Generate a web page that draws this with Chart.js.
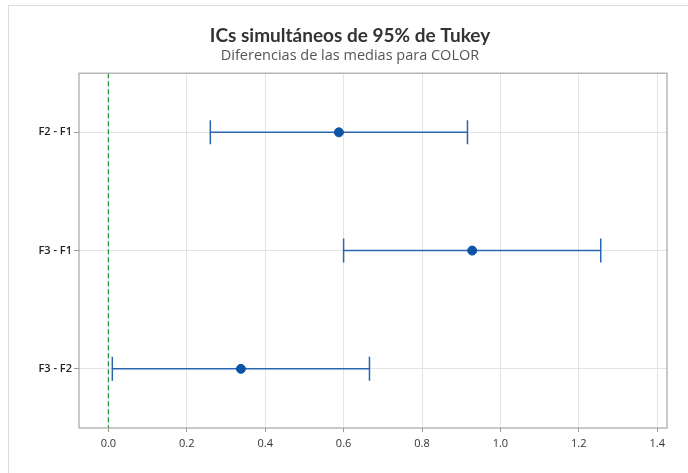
<!DOCTYPE html>
<html>
<head>
<meta charset="utf-8">
<script src="https://cdn.jsdelivr.net/npm/chart.js@4/dist/chart.umd.min.js"></script>
<style>
  html, body { margin: 0; padding: 0; background: #fff; }
  #wrap { position: relative; width: 688px; height: 473px; }
  #frame { position: absolute; left: 8px; top: 5px; right: 0; bottom: 0;
           border-left: 1px solid #dcdcdc; border-top: 1px solid #dcdcdc; }
  #c { position: absolute; left: 0; top: 0; }
</style>
</head>
<body>
<div id="wrap">
  <div id="frame"></div>
  <canvas id="c" width="688" height="473"></canvas>
</div>
<script>
// Tukey intervals
var comparisons = ["F2 - F1", "F3 - F1", "F3 - F2"];
var lowerCI = [0.26, 0.60, 0.01];
var meanDiff = [0.588, 0.928, 0.338];
var upperCI = [0.916, 1.256, 0.666];
var xTickValues = [0, 0.2, 0.4, 0.6, 0.8, 1.0, 1.2, 1.4];
var refValue = 0;

var lineColor = "#2a66b0";
var dotColor = "#0c54a6";

var datasets = [];

// reference line at zero
datasets.push({
    type: "line",
    data: [{ x: refValue, y: 0.5 }, { x: refValue, y: comparisons.length + 0.5 }],
    borderColor: "#1f9a3c",
    borderWidth: 1.3,
    borderDash: [5, 3],
    pointRadius: 0,
    order: 3
});

// interval lines with caps
comparisons.forEach(function (name, i) {
    datasets.push({
        type: "line",
        data: [{ x: lowerCI[i], y: i + 1 }, { x: upperCI[i], y: i + 1 }],
        borderColor: lineColor,
        borderWidth: 1.5,
        pointStyle: "line",
        rotation: 90,
        pointRadius: 12,
        pointBorderWidth: 1.5,
        pointBorderColor: lineColor,
        order: 2
    });
});

// means
datasets.push({
    type: "scatter",
    data: meanDiff.map(function (v, i) { return { x: v, y: i + 1 }; }),
    backgroundColor: dotColor,
    borderColor: dotColor,
    pointRadius: 4.5,
    order: 1
});

var frame = {
    id: "frame",
    afterDraw: function (chart) {
        var a = chart.chartArea;
        var ctx = chart.ctx;
        ctx.save();
        ctx.strokeStyle = "#a6a6a6";
        ctx.lineWidth = 1.2;
        ctx.strokeRect(a.left, a.top, a.right - a.left, a.bottom - a.top);
        ctx.restore();
    }
};

new Chart(document.getElementById("c"), {
    type: "line",
    data: { datasets: datasets },
    plugins: [frame],
    options: {
        responsive: false,
        animation: false,
        layout: { padding: { left: 12, right: 0, top: 0, bottom: 0 } },
        plugins: {
            legend: { display: false },
            tooltip: { enabled: false },
            title: {
                display: true,
                text: "ICs simultáneos de 95% de Tukey",
                color: "#333",
                font: { family: "Lato", size: 19, weight: "bold" },
                padding: { top: 24, bottom: 0 }
            },
            subtitle: {
                display: true,
                text: "Diferencias de las medias para COLOR",
                color: "#555",
                font: { family: "Open Sans", size: 14.5 },
                padding: { top: 0, bottom: 9 }
            }
        },
        scales: {
            x: {
                type: "linear",
                min: -0.075,
                max: 1.425,
                afterFit: function (s) { s.height = 45; },
                afterBuildTicks: function (s) {
                    s.ticks = xTickValues.map(function (v) { return { value: v }; });
                },
                grid: { color: "#e4e4e4", tickColor: "#999", tickLength: 4 },
                border: { display: false },
                ticks: {
                    color: "#333",
                    font: { family: "Open Sans", size: 11 },
                    padding: 5,
                    maxRotation: 0,
                    callback: function (v) { return Number(v).toFixed(1); }
                }
            },
            y: {
                type: "linear",
                reverse: true,
                min: 0.5,
                max: comparisons.length + 0.5,
                afterFit: function (s) { s.width = 67; },
                afterBuildTicks: function (s) {
                    s.ticks = comparisons.map(function (n, i) { return { value: i + 1 }; });
                },
                grid: { color: "#e4e4e4", tickColor: "#999", tickLength: 5 },
                border: { display: false },
                ticks: {
                    color: "#222",
                    font: { family: "Open Sans", size: 11, weight: "600" },
                    padding: 2,
                    callback: function (v) { return comparisons[Math.round(v) - 1]; }
                }
            },
            yRight: {
                type: "linear",
                position: "right",
                display: true,
                afterFit: function (s) { s.width = 21; },
                grid: { display: false },
                border: { display: false },
                ticks: { display: false }
            }
        }
    }
});
</script>
</body>
</html>
